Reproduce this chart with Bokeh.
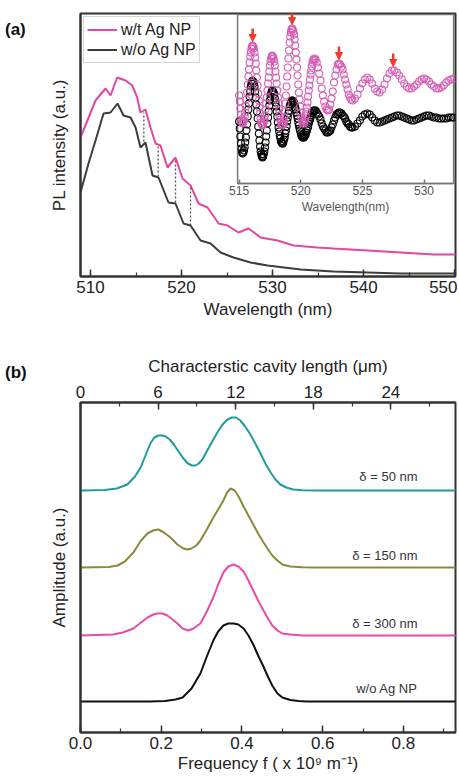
from bokeh.plotting import figure
from bokeh.layouts import column, row
from bokeh.models import (Range1d, LinearAxis, SingleIntervalTicker, FixedTicker,
                          NumeralTickFormatter, Legend, LegendItem, Arrow,
                          NormalHead, ColumnDataSource, Div)
from bokeh.core.properties import value
from bokeh.embed import file_html
from bokeh.resources import INLINE

FONT = "Liberation Sans"

# ---------------- Panel (a): PL spectra (a.u.) ----------------
wl_with = [508.90, 510.55, 511.65, 512.20, 512.93, 513.85, 514.58, 515.13, 515.49, 516.04,
           516.59, 517.14, 517.69, 518.46, 519.34, 520.11, 520.99, 521.87, 522.86, 524.07,
           525.05, 526.26, 527.36, 528.68, 530.55, 532.31, 534.95, 536.70, 540.44, 544.07,
           547.69, 550.11]
pl_with = [139, 176, 188, 181, 199, 196, 191, 179, 164, 167,
           149, 133, 131, 109, 119, 98, 91, 73, 69, 53,
           51, 44, 48, 39, 36, 31, 29, 28, 26, 24,
           22, 22]

wl_without = [508.90, 509.78, 510.55, 511.43, 512.20, 512.97, 513.63, 514.40, 514.95, 515.49,
              516.04, 516.81, 517.47, 518.57, 519.34, 520.22, 520.99, 522.09, 523.19, 524.29,
              525.71, 527.58, 529.45, 533.08, 536.70, 540.44, 544.07, 550.11]
pl_without = [84, 113, 136, 163, 164, 173, 161, 159, 149, 129,
              134, 101, 99, 74, 73, 53, 51, 36, 33, 24,
              19, 14, 11, 7, 5, 4, 3, 3]

# dashed guide lines joining the fringes of both spectra
mark_wl = [515.86, 517.44, 519.34, 520.99]
mark_top = [164, 131, 117, 91]
mark_bot = [135, 100, 74, 51]

# ---------------- Inset: fringe detail (a.u.) ----------------
inset_wl = [
    515.00, 515.05, 515.10, 515.15, 515.20, 515.25, 515.30,
    515.35, 515.40, 515.45, 515.50, 515.55, 515.60, 515.65, 515.70,
    515.75, 515.80, 515.85, 515.90, 515.95, 516.00, 516.05, 516.10,
    516.15, 516.20, 516.25, 516.30, 516.35, 516.40, 516.45, 516.50,
    516.55, 516.60, 516.65, 516.70, 516.75, 516.80, 516.85, 516.90,
    516.95, 517.00, 517.05, 517.10, 517.15, 517.20, 517.25, 517.30,
    517.35, 517.40, 517.45, 517.50, 517.55, 517.60, 517.65, 517.70,
    517.75, 517.80, 517.85, 517.90, 517.95, 518.00, 518.05, 518.10,
    518.15, 518.20, 518.25, 518.30, 518.35, 518.40, 518.45, 518.50,
    518.55, 518.60, 518.65, 518.70, 518.75, 518.80, 518.85, 518.90,
    518.95, 519.00, 519.05, 519.10, 519.15, 519.20, 519.25, 519.30,
    519.35, 519.40, 519.45, 519.50, 519.55, 519.60, 519.65, 519.70, 519.75,
    519.80, 519.85, 519.90, 519.95, 520.00, 520.05, 520.10, 520.15, 520.20,
    520.25, 520.30, 520.35, 520.40, 520.45, 520.50, 520.55, 520.60, 520.65,
    520.70, 520.75, 520.80, 520.85, 520.90, 520.95, 521.00, 521.05, 521.10,
    521.2, 521.3, 521.4, 521.5, 521.6, 521.7, 521.8, 521.9, 522.0, 522.1, 522.2,
    522.3, 522.4, 522.5, 522.6, 522.7, 522.8, 522.9, 523.0, 523.1,
    523.2, 523.3, 523.4, 523.5, 523.6, 523.7, 523.8, 523.9, 524.0, 524.1, 524.2,
    524.4, 524.6, 524.8, 525.0, 525.2, 525.4,
    525.6, 525.8, 526.0, 526.2, 526.4,
    526.6, 526.8, 527.0, 527.2, 527.4, 527.6,
    527.8, 528.0, 528.2, 528.4, 528.6, 528.8, 529.0,
    529.2, 529.4, 529.6, 529.8, 530.0,
    530.2, 530.4, 530.6, 530.8, 531.0,
    531.2, 531.4, 531.6, 531.8, 532.0, 532.2, 532.4]
inset_with = [
    88, 82, 75, 69, 64, 61, 60,
    61, 63, 67, 71, 77, 84, 91, 99, 107, 114, 121, 127, 131, 135, 137, 138,
    137, 135, 131, 126, 120, 113, 106, 98, 90, 83, 76, 70, 65, 61, 59, 58,
    59, 61, 64, 68, 74, 80, 86, 93, 100, 106, 112, 118, 122, 125, 127, 128,
    127, 125, 122, 118, 112, 106, 100, 93, 86, 80, 74, 68, 64, 61, 59, 58,
    59, 62, 66, 72, 80, 88, 97, 107, 116, 125, 133, 141, 147, 151, 154, 155,
    154, 152, 149, 144, 138, 131, 124, 116, 108, 99, 91, 84, 77, 71, 66, 63, 61, 60,
    60, 62, 64, 68, 72, 76, 81, 87, 93, 98, 104, 109, 113, 117, 121, 123, 124, 125,
    124, 121, 116, 110, 103, 95, 88, 82, 77, 74, 73,
    74, 79, 85, 92, 101, 108, 114, 119, 120,
    119, 117, 114, 109, 104, 99, 94, 89, 86, 84, 83,
    85, 89, 95, 100, 104, 106,
    104, 100, 95, 92, 91,
    94, 99, 105, 110, 113, 113,
    111, 108, 104, 100, 97, 95, 95,
    97, 99, 102, 104, 105,
    104, 102, 99, 97, 95,
    95, 96, 98, 101, 103, 104, 105]
inset_without = [
    62, 55, 47, 40, 35, 31, 30,
    31, 33, 36, 41, 46, 53, 59, 67, 74, 80, 87, 92, 97, 100, 102, 103,
    102, 100, 97, 92, 86, 79, 72, 65, 57, 50, 43, 37, 32, 29, 27, 26,
    27, 29, 32, 36, 41, 47, 53, 60, 66, 72, 78, 83, 87, 90, 92, 93,
    92, 91, 89, 85, 81, 77, 72, 67, 61, 56, 52, 48, 45, 42, 41, 40,
    40, 42, 44, 46, 50, 53, 57, 62, 66, 70, 73, 77, 79, 81, 82, 83,
    83, 82, 81, 79, 76, 74, 71, 68, 65, 61, 58, 55, 53, 50, 48, 47, 46, 46,
    46, 47, 48, 49, 51, 53, 55, 57, 60, 62, 64, 66, 68, 70, 71, 72, 73, 73,
    73, 71, 69, 67, 64, 60, 57, 55, 53, 51, 51,
    52, 53, 56, 59, 63, 66, 69, 70, 71,
    71, 70, 68, 67, 65, 62, 60, 59, 57, 56, 56,
    57, 60, 63, 67, 69, 70,
    69, 66, 63, 61, 61,
    62, 63, 64, 65, 66, 67,
    68, 68, 67, 66, 65, 64, 63,
    63, 64, 65, 66, 67,
    68, 68, 67, 66, 66,
    65, 65, 65, 65, 66, 66, 66]
arrow_wl = [516.1, 519.3, 523.1, 527.5]
arrow_peak = [138, 155, 120, 113]

if not (len(inset_wl) == len(inset_with) == len(inset_without)):
    raise SystemExit(f"inset lengths {len(inset_wl)} {len(inset_with)} {len(inset_without)}")

# ---------------- Panel (b): Fourier amplitude ----------------
f_50 = [0.0, 0.06, 0.09, 0.116, 0.135, 0.149, 0.162, 0.173, 0.183, 0.193, 0.203, 0.211,
        0.221, 0.231, 0.243, 0.255, 0.266, 0.277, 0.285, 0.293, 0.302, 0.31, 0.325, 0.339,
        0.352, 0.364, 0.375, 0.385, 0.396, 0.408, 0.421, 0.433, 0.446, 0.458, 0.471, 0.483,
        0.495, 0.51, 0.527, 0.55, 0.58, 0.93]
amp_50 = [0, 0.5, 2, 6, 14, 23, 36, 47, 53, 55, 55, 54,
          51, 46, 39, 32, 27, 25, 25, 27, 31, 37, 48, 58,
          66, 71, 73, 73, 70, 64, 56, 47, 37, 27, 18, 11,
          6, 3, 1, 0.2, 0, 0]
f_150 = [0.0, 0.07, 0.092, 0.11, 0.131, 0.15, 0.166, 0.18, 0.193, 0.207, 0.223, 0.24,
         0.255, 0.265, 0.275, 0.287, 0.297, 0.313, 0.329, 0.341, 0.354, 0.363, 0.372, 0.382,
         0.393, 0.404, 0.416, 0.428, 0.44, 0.452, 0.463, 0.475, 0.488, 0.50, 0.52, 0.55,
         0.58, 0.93]
amp_150 = [0, 0.5, 2, 6, 15, 27, 34, 37, 38, 35, 30, 23,
           19, 18, 19, 22, 27, 38, 50, 58, 67, 75, 79, 77,
           70, 61, 52, 43, 34, 26, 19, 12, 7, 3, 1, 0.2,
           0, 0]
f_300 = [0.0, 0.08, 0.105, 0.131, 0.15, 0.166, 0.18, 0.191, 0.203, 0.215, 0.228, 0.24,
         0.253, 0.267, 0.28, 0.297, 0.313, 0.329, 0.341, 0.354, 0.366, 0.379, 0.391, 0.404,
         0.416, 0.428, 0.44, 0.452, 0.463, 0.475, 0.488, 0.50, 0.52, 0.55, 0.93]
amp_300 = [0, 1, 3, 7, 13, 18, 21, 22, 22, 20, 16, 12,
           7, 5, 7, 12, 24, 38, 51, 63, 69, 71, 69, 64,
           55, 45, 35, 26, 18, 10, 5, 2, 1, 0, 0]
f_ref = [0.0, 0.17, 0.21, 0.235, 0.253, 0.275, 0.297, 0.313, 0.329, 0.341, 0.354, 0.366,
         0.379, 0.391, 0.404, 0.416, 0.428, 0.44, 0.452, 0.463, 0.475, 0.488, 0.50, 0.52,
         0.54, 0.56, 0.93]
amp_ref = [0, 0, 0.5, 2, 4, 13, 28, 45, 61, 70, 76, 78,
           78, 77, 73, 66, 57, 46, 36, 26, 16, 8, 4, 1.5,
           0.5, 0, 0]
offsets = {"50": 242, "150": 165, "300": 97, "ref": 31}
label_text = ["δ = 50 nm", "δ = 150 nm", "δ = 300 nm", "w/o Ag NP"]
label_y = [256, 177, 109, 44]
label_x = [0.835, 0.835, 0.835, 0.835]

# ---------------- styles ----------------
PINK = "#e2489f"
DARK = "#3d3d3d"
AXC = "#333333"
TEAL = "#1f9c9c"
OLIVE = "#8a8a3c"
PINK_B = "#e84aa8"
INSET_PINK = "#d65cb4"
RED = "#ee3b2b"
PANEL_DIV_W = 30


def style_axis(ax, tick_size="17px", label_size="17px", color=AXC):
    ax.axis_line_color = color
    ax.axis_line_width = 2
    ax.major_tick_line_color = color
    ax.minor_tick_line_color = color
    ax.major_tick_line_width = 1.5
    ax.minor_tick_line_width = 1.2
    ax.major_tick_in = 7
    ax.major_tick_out = 0
    ax.minor_tick_in = 4
    ax.minor_tick_out = 0
    ax.major_label_text_font = FONT
    ax.major_label_text_font_size = tick_size
    ax.major_label_text_color = "#222222"
    ax.axis_label_text_font = FONT
    ax.axis_label_text_font_size = label_size
    ax.axis_label_text_font_style = "normal"
    ax.axis_label_text_color = "#222222"


def panel_tag(text, pad_top, height):
    html = (f'<div style="margin-top:{pad_top}px;margin-left:5px;font-family:\'{FONT}\';'
            f'font-size:17px;font-weight:bold;color:#111111;line-height:20px">{text}</div>')
    return Div(text=html, width=PANEL_DIV_W, height=height, margin=0)


# ---------------- figure (a) ----------------
X0, X1 = 508.9, 550.1
p1 = figure(width=427, height=324, x_range=Range1d(X0, X1), y_range=Range1d(0, 263),
            output_backend="svg", toolbar_location=None,
            min_border_left=50, min_border_right=2, min_border_top=13, min_border_bottom=48)
p1.grid.visible = False
p1.outline_line_color = AXC
p1.outline_line_width = 2

xa = p1.xaxis[0]
xa.ticker = SingleIntervalTicker(interval=10, num_minor_ticks=2)
xa.axis_label = "Wavelength (nm)"
style_axis(xa)
xa.major_label_standoff = 4
xa.axis_label_standoff = 4

ya = p1.yaxis[0]
ya.ticker = FixedTicker(ticks=[])
ya.axis_label = "PL intensity (a.u.)"
style_axis(ya)
ya.axis_label_standoff = 12

r_with = p1.line(wl_with, pl_with, line_color=PINK, line_width=2)
r_without = p1.line(wl_without, pl_without, line_color=DARK, line_width=2)
p1.segment(x0=mark_wl, y0=mark_bot, x1=mark_wl, y1=mark_top,
           line_color="#555555", line_width=1.3, line_dash="2 2")

legend = Legend(items=[LegendItem(label="w/t Ag NP", renderers=[r_with]),
                       LegendItem(label="w/o Ag NP", renderers=[r_without])],
                location="top_left", margin=3, padding=3, spacing=1,
                label_text_font=FONT, label_text_font_size="16px", label_text_color="#222222",
                glyph_width=30, glyph_height=19, label_height=19, label_standoff=4,
                border_line_color="#aaaaaa", border_line_width=1.2,
                background_fill_alpha=1.0)
p1.add_layout(legend, "center")

# inset placed in the upper right part of the frame (fractions of the frame)
FX = (0.419, 0.995)
FY = (0.354, 0.996)
IX = (514.88, 532.40)
IY = (0, 169)
ix_span = (IX[1] - IX[0]) / (FX[1] - FX[0])
ix_start = IX[0] - FX[0] * ix_span
iy_span = (IY[1] - IY[0]) / (FY[1] - FY[0])
iy_start = IY[0] - FY[0] * iy_span
p1.extra_x_ranges = {"ix": Range1d(ix_start, ix_start + ix_span)}
p1.extra_y_ranges = {"iy": Range1d(iy_start, iy_start + iy_span)}

p1.quad(left=[IX[0]], right=[IX[1]], bottom=[IY[0]], top=[IY[1]],
        x_range_name="ix", y_range_name="iy",
        fill_color="white", line_color="#777777", line_width=1.5)
p1.scatter(inset_wl, inset_without, x_range_name="ix", y_range_name="iy",
           marker="circle", size=7, fill_color=None, line_color="#000000", line_width=1.1)
p1.scatter(inset_wl, inset_with, x_range_name="ix", y_range_name="iy",
           marker="circle", size=7, fill_color=None, line_color=INSET_PINK, line_width=1.1)

arrow_src = ColumnDataSource(dict(x=arrow_wl,
                                  y0=[v + 17 for v in arrow_peak],
                                  y1=[v + 4 for v in arrow_peak]))
p1.add_layout(Arrow(end=NormalHead(size=7, fill_color=RED, line_color=RED),
                    x_start="x", y_start="y0", x_end="x", y_end="y1", source=arrow_src,
                    line_color=RED, line_width=2.5, x_range_name="ix", y_range_name="iy"))

iax = LinearAxis(x_range_name="ix", y_range_name="iy", fixed_location=IY[0], bounds=IX,
                 ticker=SingleIntervalTicker(interval=5, num_minor_ticks=2),
                 axis_label="Wavelength(nm)")
style_axis(iax, tick_size="12px", label_size="12px", color="#777777")
iax.axis_line_width = 1.5
iax.major_tick_in = 4
iax.minor_tick_in = 0
iax.major_label_text_color = "#555555"
iax.axis_label_text_color = "#555555"
iax.major_label_standoff = 3
iax.axis_label_standoff = 1
p1.add_layout(iax, "below")

# ---------------- figure (b) ----------------
F1 = 0.929
p2 = figure(width=427, height=452, x_range=Range1d(0, F1), y_range=Range1d(0, 330),
            output_backend="svg", toolbar_location=None,
            min_border_left=50, min_border_right=2, min_border_top=78, min_border_bottom=44)
p2.grid.visible = False
p2.outline_line_color = AXC
p2.outline_line_width = 2
p2.extra_x_ranges = {"len": Range1d(0, 29.0)}

bx = p2.xaxis[0]
bx.ticker = SingleIntervalTicker(interval=0.2, num_minor_ticks=2)
bx.formatter = NumeralTickFormatter(format="0.0")
bx.axis_label = "Frequency f ( x 10⁹ m⁻¹)"
style_axis(bx)
bx.major_label_standoff = 4
bx.axis_label_standoff = 2

by = p2.yaxis[0]
by.ticker = FixedTicker(ticks=[])
by.axis_label = "Amplitude (a.u.)"
style_axis(by)
by.axis_label_standoff = 12

top = LinearAxis(x_range_name="len", ticker=SingleIntervalTicker(interval=6, num_minor_ticks=2),
                 axis_label="Characterstic cavity length (μm)")
style_axis(top)
top.major_label_standoff = 5
top.axis_label_standoff = 7
p2.add_layout(top, "above")

p2.line(f_50, [a + offsets["50"] for a in amp_50], line_color=TEAL, line_width=2)
p2.line(f_150, [a + offsets["150"] for a in amp_150], line_color=OLIVE, line_width=2)
p2.line(f_300, [a + offsets["300"] for a in amp_300], line_color=PINK_B, line_width=2)
p2.line(f_ref, [a + offsets["ref"] for a in amp_ref], line_color="#111111", line_width=2)

p2.text(x=label_x, y=label_y, text=label_text, text_font=value(FONT),
        text_font_size=value("13px"), text_align="right", text_baseline="middle",
        text_color="#333333")

tag_a = panel_tag("(a)", 20, 324)
tag_b = panel_tag("(b)", 39, 452)

layout = column(row(tag_a, p1, spacing=0), row(tag_b, p2, spacing=0), spacing=0)
open("out.html", "w").write(file_html(layout, INLINE))
